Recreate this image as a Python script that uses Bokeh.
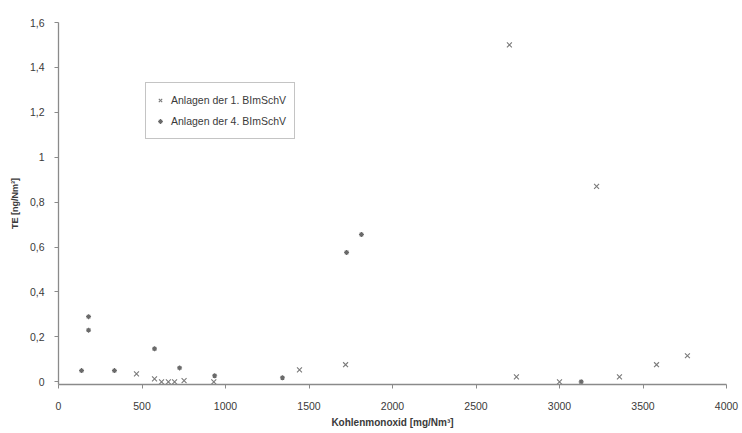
from bokeh.plotting import figure
from bokeh.models import Range1d, FixedTicker, Legend, LegendItem
from bokeh.embed import file_html
from bokeh.resources import INLINE

# Plants under the 1st BImSchV (cross markers)
co_1 = [467, 575, 617, 658, 695, 752, 930, 1443, 1719, 2700, 2742, 3000, 3222, 3359, 3581, 3766]
te_1 = [0.035, 0.013, 0.0, 0.0, 0.0, 0.005, 0.0, 0.053, 0.076, 1.5, 0.022, 0.0, 0.87, 0.022, 0.076, 0.116]

# Plants under the 4th BImSchV (small star markers)
co_4 = [138, 180, 180, 335, 575, 725, 935, 1341, 1725, 1814, 3130]
te_4 = [0.05, 0.29, 0.23, 0.05, 0.147, 0.062, 0.027, 0.018, 0.576, 0.656, 0.0]

x_ticks = [0, 500, 1000, 1500, 2000, 2500, 3000, 3500, 4000]
x_tick_labels = ["0", "500", "1000", "1500", "2000", "2500", "3000", "3500", "4000"]
y_ticks = [0, 0.2, 0.4, 0.6, 0.8, 1.0, 1.2, 1.4, 1.6]
y_tick_labels = ["0", "0,2", "0,4", "0,6", "0,8", "1", "1,2", "1,4", "1,6"]

series_labels = ["Anlagen der 1. BImSchV", "Anlagen der 4. BImSchV"]

FONT = "Liberation Sans"
TEXT = "#3a3a3a"
AXIS = "#8a8a8a"

p = figure(width=742, height=433, output_backend="svg", toolbar_location=None,
           x_range=Range1d(0, 4000), y_range=Range1d(-0.012, 1.6),
           min_border_left=58, min_border_right=16, min_border_top=22, min_border_bottom=49,
           background_fill_color="white", border_fill_color="white")
p.outline_line_color = None
p.grid.visible = False

r1 = p.scatter(co_1, te_1, marker="x", size=7, line_color="#7a7a7a", line_width=1.1)
r4 = p.scatter(co_4, te_4, marker="asterisk", size=5, line_color="#6a6a6a", line_width=1.2)

for ax in (p.xaxis[0], p.yaxis[0]):
    ax.axis_line_color = AXIS
    ax.axis_line_width = 1.3
    ax.major_tick_line_color = AXIS
    ax.major_tick_out = 4
    ax.major_tick_in = 0
    ax.minor_tick_line_color = None
    ax.major_label_text_font = FONT
    ax.major_label_text_font_size = "10.5px"
    ax.major_label_text_color = TEXT
    ax.axis_label_text_font = FONT
    ax.axis_label_text_color = TEXT
    ax.axis_label_text_font_style = "bold"

p.xaxis.ticker = FixedTicker(ticks=x_ticks)
p.xaxis.major_label_overrides = dict(zip(x_ticks, x_tick_labels))
p.xaxis.axis_label = "Kohlenmonoxid [mg/Nm³]"
p.xaxis.axis_label_text_font_size = "10px"
p.xaxis.major_label_standoff = 13
p.xaxis.axis_label_standoff = 4

p.yaxis.ticker = FixedTicker(ticks=y_ticks)
p.yaxis.major_label_overrides = dict(zip(y_ticks, y_tick_labels))
p.yaxis.axis_label = "TE [ng/Nm³]"
p.yaxis.axis_label_text_font_size = "9px"
p.yaxis.major_label_standoff = 10
p.yaxis.axis_label_standoff = 7

legend = Legend(items=[LegendItem(label=series_labels[0], renderers=[r1]),
                       LegendItem(label=series_labels[1], renderers=[r4])],
                location=(87, 245))
legend.label_text_font = FONT
legend.label_text_font_size = "10.5px"
legend.label_text_color = TEXT
legend.border_line_color = AXIS
legend.border_line_width = 1.2
legend.background_fill_color = "white"
legend.background_fill_alpha = 1.0
legend.padding = 8
legend.spacing = 3
legend.label_height = 18
legend.glyph_height = 18
legend.glyph_width = 12
legend.label_standoff = 5
legend.margin = 0
p.add_layout(legend, "center")

open("out.html", "w").write(file_html(p, INLINE))
